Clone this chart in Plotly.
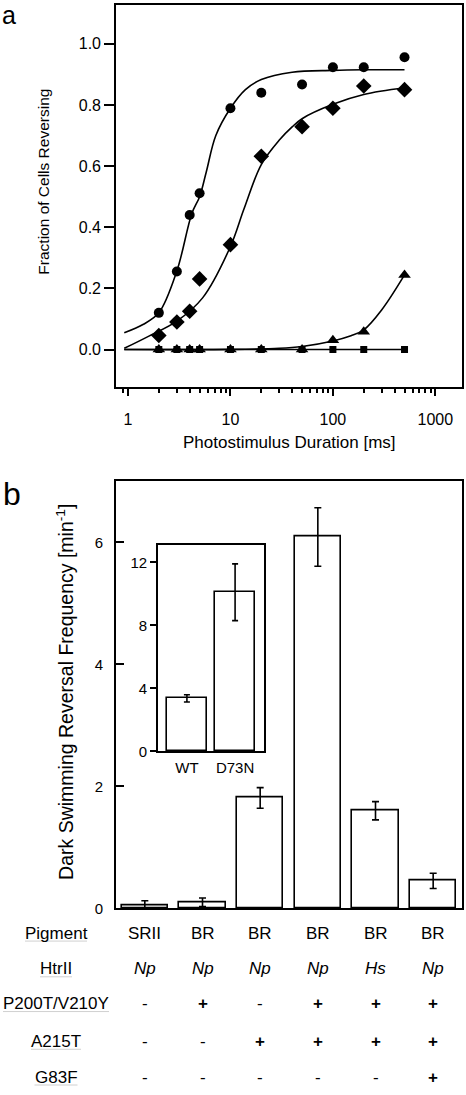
import plotly.graph_objects as go

# ---------------- Panel a data ----------------
durations = [2, 3, 4, 5, 10, 20, 50, 100, 200, 500]
circle_y = [0.12, 0.255, 0.44, 0.511, 0.789, 0.84, 0.867, 0.923, 0.923, 0.956]
diamond_y = [0.046, 0.09, 0.125, 0.231, 0.343, 0.632, 0.729, 0.789, 0.862, 0.850]
triangle_y = [0, 0, 0, 0, 0, 0, 0, 0.03, 0.058, 0.244]
square_y = [0, 0, 0, 0, 0, 0, 0, 0, 0, 0]

fit_circle_x = [0.92, 1.4, 2, 3, 4.2, 5, 5.8, 7.2, 10, 14, 20, 40, 100, 200, 500]
fit_circle_y = [0.055, 0.082, 0.12, 0.257, 0.445, 0.50, 0.58, 0.70, 0.789, 0.85, 0.883, 0.907, 0.913, 0.915, 0.915]
fit_diamond_x = [0.92, 1.6, 3, 5.35, 10, 13.6, 20, 30, 40, 50, 100, 200, 500]
fit_diamond_y = [0.004, 0.044, 0.093, 0.169, 0.337, 0.461, 0.605, 0.685, 0.728, 0.755, 0.802, 0.834, 0.856]
fit_triangle_x = [0.92, 10, 30, 50, 100, 150, 200, 300, 500]
fit_triangle_y = [0, 0.0005, 0.004, 0.01, 0.028, 0.045, 0.064, 0.13, 0.244]
fit_square_x = [0.92, 500]
fit_square_y = [0, 0]

x_major_ticks = [1, 10, 100, 1000]
x_major_text = ["1", "10", "100", "1000"]
x_minor_ticks = [0.9, 2, 3, 4, 5, 6, 7, 8, 9, 20, 30, 40, 50, 60, 70, 80, 90,
                 200, 300, 400, 500, 600, 700, 800, 900]
y_a_ticks = [0.0, 0.2, 0.4, 0.6, 0.8, 1.0]
y_a_text = ["0.0", "0.2", "0.4", "0.6", "0.8", "1.0"]

# ---------------- Panel b data ----------------
bar_pos = [0, 1, 2, 3, 4, 5]
bar_values = [0.05, 0.10, 1.81, 6.09, 1.60, 0.45]
bar_errors = [0.075, 0.07, 0.17, 0.48, 0.15, 0.125]
y_b_ticks = [0, 2, 4, 6]

inset_labels = ["WT", "D73N"]
inset_values = [3.37, 10.1]
inset_errors = [0.23, 1.8]
y_inset_ticks = [0, 4, 8, 12]

row_labels = ["Pigment", "HtrII", "P200T/V210Y", "A215T", "G83F"]
pigment = ["SRII", "BR", "BR", "BR", "BR", "BR"]
htrii = ["<i>Np</i>", "<i>Np</i>", "<i>Np</i>", "<i>Np</i>", "<i>Hs</i>", "<i>Np</i>"]
p200t = ["-", "<b>+</b>", "-", "<b>+</b>", "<b>+</b>", "<b>+</b>"]
a215t = ["-", "-", "<b>+</b>", "<b>+</b>", "<b>+</b>", "<b>+</b>"]
g83f = ["-", "-", "-", "-", "-", "<b>+</b>"]
table_rows = [pigment, htrii, p200t, a215t, g83f]

FONT = "Liberation Sans, Arial, sans-serif"
W, H = 466, 1095


def py(p):
    return 1 - p / H


def px(p):
    return p / W


fig = go.Figure()

# ---- panel a traces ----
line_style = dict(color="black", width=1.6, shape="spline")
fig.add_trace(go.Scatter(x=fit_square_x, y=fit_square_y, mode="lines", line=dict(color="black", width=1.6),
                         xaxis="x", yaxis="y", showlegend=False))
fig.add_trace(go.Scatter(x=fit_triangle_x, y=fit_triangle_y, mode="lines", line=line_style,
                         xaxis="x", yaxis="y", showlegend=False))
fig.add_trace(go.Scatter(x=fit_diamond_x, y=fit_diamond_y, mode="lines", line=line_style,
                         xaxis="x", yaxis="y", showlegend=False))
fig.add_trace(go.Scatter(x=fit_circle_x, y=fit_circle_y, mode="lines", line=line_style,
                         xaxis="x", yaxis="y", showlegend=False))
fig.add_trace(go.Scatter(x=durations, y=square_y, mode="markers",
                         marker=dict(symbol="square", size=7, color="black"),
                         xaxis="x", yaxis="y", showlegend=False))
fig.add_trace(go.Scatter(x=durations, y=triangle_y, mode="markers",
                         marker=dict(symbol="triangle-up", size=11, color="black"),
                         xaxis="x", yaxis="y", showlegend=False))
fig.add_trace(go.Scatter(x=durations, y=diamond_y, mode="markers",
                         marker=dict(symbol="diamond", size=12, color="black"),
                         xaxis="x", yaxis="y", showlegend=False))
fig.add_trace(go.Scatter(x=durations, y=circle_y, mode="markers",
                         marker=dict(symbol="circle", size=10, color="black"),
                         xaxis="x", yaxis="y", showlegend=False))

# ---- panel b bars ----
fig.add_trace(go.Bar(x=bar_pos, y=bar_values, width=0.8,
                     marker=dict(color="white", line=dict(color="black", width=1.6)),
                     error_y=dict(type="data", array=bar_errors, color="black", thickness=1.6, width=3.5),
                     xaxis="x2", yaxis="y2", showlegend=False))

# ---- inset bars ----
fig.add_trace(go.Bar(x=inset_labels, y=inset_values, width=0.83,
                     marker=dict(color="white", line=dict(color="black", width=1.6)),
                     error_y=dict(type="data", array=inset_errors, color="black", thickness=1.6, width=3),
                     xaxis="x3", yaxis="y3", showlegend=False))

axis_common = dict(showgrid=False, zeroline=False, showline=True, linecolor="black",
                   linewidth=1.6, mirror=True, tickcolor="black", tickwidth=1.5)
font16 = dict(family=FONT, size=16, color="black")
font15 = dict(family=FONT, size=15, color="black")

fig.update_layout(
    width=W, height=H,
    margin=dict(l=0, r=0, t=0, b=0),
    paper_bgcolor="white", plot_bgcolor="white",
    font=dict(family=FONT, color="black"),
    bargap=0,
    xaxis=dict(**axis_common, tickfont=font16, type="log", domain=[px(116), px(462)], range=[-0.117, 3.26],
               tickmode="array", tickvals=x_major_ticks, ticktext=x_major_text,
               ticks="outside", ticklen=7, ticklabelstandoff=10,
               minor=dict(tickmode="array", tickvals=x_minor_ticks, ticks="outside",
                          ticklen=4, tickcolor="black", tickwidth=1.5, showgrid=False),
               anchor="y"),
    yaxis=dict(**axis_common, tickfont=font16, domain=[py(390), py(5)], range=[-0.123, 1.127],
               tickmode="array", tickvals=y_a_ticks, ticktext=y_a_text,
               ticks="outside", ticklen=10, anchor="x"),
    xaxis2=dict(**axis_common, domain=[px(116), px(462)], range=[-0.5, 5.5],
                showticklabels=False, ticks="", anchor="y2"),
    yaxis2=dict(**axis_common, tickfont=font15,
                domain=[py(915), py(485)], range=[0, 7.0],
                tickmode="array", tickvals=y_b_ticks, ticks="inside", ticklen=8,
                ticklabelstandoff=8, anchor="x2"),
    xaxis3=dict(**axis_common, tickfont=font15,
                domain=[px(158), px(264)], range=[-0.6, 1.6], ticks="", anchor="y3",
                ticklabelstandoff=2),
    yaxis3=dict(**axis_common, tickfont=font15,
                domain=[py(757), py(549)], range=[0, 13.1],
                tickmode="array", tickvals=y_inset_ticks, ticks="outside", ticklen=6,
                anchor="x3"),
)

annotations = [
    dict(text="a", x=px(1), y=1, xref="paper", yref="paper", xanchor="left", yanchor="top",
         showarrow=False, font=dict(family=FONT, size=25, color="black"), borderpad=0),
    dict(text="b", x=px(1), y=py(498), xref="paper", yref="paper", xanchor="left", yanchor="middle",
         showarrow=False, font=dict(family=FONT, size=32, color="black")),
    dict(text="Fraction of Cells Reversing", x=px(44), y=py(183), xref="paper", yref="paper",
         textangle=-90, showarrow=False, xanchor="center", yanchor="middle",
         font=dict(family=FONT, size=15.5, color="black")),
    dict(text="Photostimulus Duration [ms]", x=px(289), y=py(446), xref="paper", yref="paper",
         showarrow=False, xanchor="center", yanchor="middle",
         font=dict(family=FONT, size=17, color="black")),
    dict(text="Dark Swimming Reversal Frequency [min<sup>-1</sup>]", x=px(65), y=py(697),
         xref="paper", yref="paper", textangle=-90, showarrow=False, xanchor="center", yanchor="middle",
         font=dict(family=FONT, size=19.5, color="black")),
]

row_y = [940, 976, 1011, 1049, 1085]
underline_half = [31, 16, 53, 25, 21.5]
shapes = []
for lbl, ry, hw, vals in zip(row_labels, row_y, underline_half, table_rows):
    annotations.append(dict(text=lbl, x=px(56), y=py(ry), xref="paper", yref="paper",
                            showarrow=False, xanchor="center", yanchor="middle",
                            font=dict(family=FONT, size=17, color="black")))
    shapes.append(dict(type="line", xref="paper", yref="paper",
                       x0=px(56 - hw), x1=px(56 + hw), y0=py(ry + 8), y1=py(ry + 8),
                       line=dict(color="#d0d0d0", width=1)))
    for pos, v in zip(bar_pos, vals):
        annotations.append(dict(text=v, x=pos, y=py(ry), xref="x2", yref="paper",
                                showarrow=False, xanchor="center", yanchor="middle",
                                font=dict(family=FONT, size=17, color="black")))

fig.update_layout(annotations=annotations, shapes=shapes)

fig.write_html("out.html", config={"displayModeBar": False},
               post_script="document.body.style.margin='0';document.body.style.overflow='hidden';")
